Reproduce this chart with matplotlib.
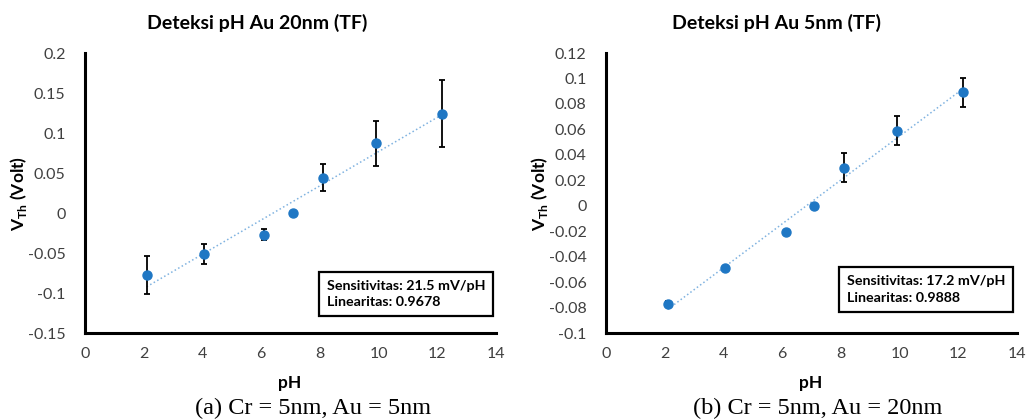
import numpy as np
import matplotlib.pyplot as plt

# pH-Werte und Schwellspannungen
ph_a = [2.1, 4.05, 6.1, 7.1, 8.1, 9.9, 12.15]
vth_a = [-0.078, -0.051, -0.027, 0.0, 0.044, 0.087, 0.124]
err_a = [0.0237, 0.0125, 0.007, 0.0, 0.017, 0.028, 0.042]

ph_b = [2.1, 4.07, 6.13, 7.1, 8.12, 9.9, 12.17]
vth_b = [-0.077, -0.049, -0.021, 0.0, 0.030, 0.059, 0.089]
err_b = [0.002, 0.001, 0.0, 0.0, 0.0115, 0.0114, 0.0115]

titles = ["Deteksi pH Au 20nm (TF)", "Deteksi pH Au 5nm (TF)"]
captions = ["(a) Cr = 5nm, Au = 5nm", "(b) Cr = 5nm, Au = 20nm"]
infos = ["Sensitivitas: 21.5 mV/pH\nLinearitas: 0.9678",
         "Sensitivitas: 17.2 mV/pH\nLinearitas: 0.9888"]
yticks_a = [-0.15, -0.1, -0.05, 0, 0.05, 0.1, 0.15, 0.2]
yticks_b = [-0.1, -0.08, -0.06, -0.04, -0.02, 0, 0.02, 0.04, 0.06, 0.08, 0.1, 0.12]
xticks = [0, 2, 4, 6, 8, 10, 12, 14]

blue = "#1f77c4"
sans = ["Lato", "DejaVu Sans"]

fig = plt.figure(figsize=(10.28, 4.2), dpi=100)
ax1 = fig.add_axes([0.0827, 0.2071, 0.3998, 0.6667])
ax2 = fig.add_axes([0.5895, 0.2071, 0.3998, 0.6667])


def fmt(v):
    return "%g" % round(v, 3)


def panel(ax, x, y, e, yticks, title, caption, info, tx, box_xy, ylab_x, xlab_x, cap_x):
    ax.errorbar(x, y, yerr=e, fmt="none", ecolor="black", elinewidth=1.3,
                capsize=2.5, capthick=1.3, zorder=2)
    ax.plot(x, y, "o", color=blue, markersize=6.5, zorder=3)
    # lineare Trendlinie
    k, d = np.polyfit(x, y, 1)
    xs = np.array([x[0], x[-1]])
    ax.plot(xs, k * xs + d, ":", color="#7fb2e0", linewidth=1.1, zorder=1)

    ax.set_xlim(0, 14)
    ax.set_ylim(yticks[0], yticks[-1])
    ax.set_xticks(xticks)
    ax.set_yticks(yticks)
    ax.set_yticklabels([fmt(v) for v in yticks])
    ax.tick_params(length=0, labelsize=11.5, colors="#404040", pad=14)
    for lbl in ax.get_xticklabels() + ax.get_yticklabels():
        lbl.set_family(sans)
    ax.tick_params(axis="x", pad=10)
    for s in ["top", "right"]:
        ax.spines[s].set_visible(False)
    for s in ["left", "bottom"]:
        ax.spines[s].set_linewidth(2.2)
        ax.spines[s].set_color("black")

    fig.text(tx, 0.945, title, ha="center", va="center", fontsize=14,
             fontweight="bold", family=sans)
    fig.text(ylab_x, 0.54, r"V$_{\mathregular{Th}}$ (Volt)", rotation=90,
             ha="center", va="center", fontsize=12.5, fontweight="bold", family=sans)
    fig.text(xlab_x, 0.088, "pH", ha="center", va="center", fontsize=12.5,
             fontweight="bold", family=sans)
    fig.text(cap_x, 0.028, caption, ha="center", va="center", fontsize=17.5,
             family=["Liberation Serif", "DejaVu Serif"])
    fig.text(box_xy[0], box_xy[1], info, ha="left", va="center", fontsize=10.3,
             fontweight="bold", family=sans, linespacing=1.5,
             bbox=dict(boxstyle="square,pad=0.55", fc="white", ec="black", lw=1.6))


panel(ax1, ph_a, vth_a, err_a, yticks_a, titles[0], captions[0], infos[0],
      0.25, (0.318, 0.3), 0.018, 0.282, 0.305)
panel(ax2, ph_b, vth_b, err_b, yticks_b, titles[1], captions[1], infos[1],
      0.755, (0.824, 0.31), 0.525, 0.789, 0.795)

fig.savefig("out.png", dpi=100)
